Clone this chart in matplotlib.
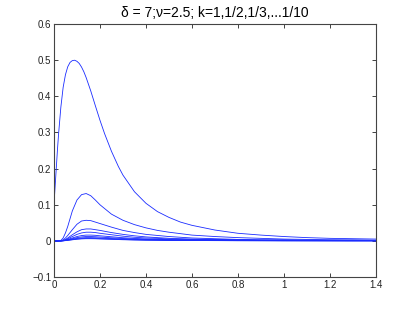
import matplotlib
matplotlib.use("Agg")
import matplotlib.pyplot as plt
from matplotlib.ticker import FuncFormatter

# curva k=1 tem pico estreito, usa grade propria mais densa
x1 = [0, 0.005, 0.01, 0.015, 0.02, 0.03, 0.04, 0.05, 0.06, 0.07, 0.08,
      0.09, 0.10, 0.11, 0.12, 0.13, 0.14, 0.16, 0.18, 0.20, 0.22, 0.25,
      0.28, 0.30, 0.35, 0.40, 0.45, 0.50, 0.55, 0.60, 0.70, 0.80, 0.90,
      1.0, 1.1, 1.2, 1.3, 1.4]
k1 = [0.10, 0.15, 0.20, 0.25, 0.295, 0.37, 0.425, 0.46, 0.482, 0.494,
      0.499, 0.500, 0.497, 0.491, 0.481, 0.468, 0.452, 0.415, 0.374, 0.334,
      0.297, 0.248, 0.206, 0.182, 0.136, 0.104, 0.081, 0.065, 0.052, 0.043,
      0.030, 0.021, 0.016, 0.012, 0.009, 0.007, 0.006, 0.005]

# grade comum para k = 1/2 ... 1/10
x = [0, 0.01, 0.02, 0.03, 0.04, 0.05, 0.06, 0.08, 0.10, 0.12, 0.14, 0.16,
     0.18, 0.20, 0.25, 0.30, 0.35, 0.40, 0.45, 0.50, 0.60, 0.70, 0.80,
     0.90, 1.0, 1.1, 1.2, 1.3, 1.4]
k2 = [0, 0, 0, 0.001, 0.008, 0.022, 0.040, 0.083, 0.113, 0.128, 0.131,
      0.125, 0.113, 0.100, 0.074, 0.057, 0.045, 0.036, 0.029, 0.024,
      0.016, 0.012, 0.009, 0.007, 0.005, 0.004, 0.003, 0.003, 0.002]
k3 = [0, 0, 0, 0, 0.003, 0.008, 0.015, 0.031, 0.046, 0.055, 0.057, 0.056,
      0.052, 0.048, 0.038, 0.029, 0.023, 0.018, 0.015, 0.012, 0.008,
      0.006, 0.004, 0.003, 0.003, 0.002, 0.002, 0.001, 0.001]
k4 = [0, 0, 0, 0, 0.001, 0.004, 0.008, 0.017, 0.025, 0.031, 0.033, 0.033,
      0.031, 0.029, 0.023, 0.018, 0.014, 0.011, 0.009, 0.007, 0.005,
      0.004, 0.003, 0.002, 0.002, 0.001, 0.001, 0.001, 0.001]
k5 = [0, 0, 0, 0, 0.001, 0.003, 0.006, 0.012, 0.018, 0.022, 0.024, 0.024,
      0.023, 0.021, 0.017, 0.013, 0.010, 0.008, 0.007, 0.005, 0.004,
      0.003, 0.002, 0.002, 0.001, 0.001, 0.001, 0.001, 0.001]
k6 = [0, 0, 0, 0, 0.0007, 0.002, 0.004, 0.008, 0.012, 0.0147, 0.016,
      0.016, 0.0154, 0.0141, 0.0114, 0.0087, 0.0067, 0.0053, 0.0045,
      0.0035, 0.0027, 0.002, 0.0015, 0.0012, 0.001, 0.0008, 0.0007,
      0.0006, 0.0005]
k7 = [0, 0, 0, 0, 0.0005, 0.0015, 0.003, 0.006, 0.009, 0.011, 0.012,
      0.012, 0.0115, 0.0106, 0.0085, 0.0065, 0.005, 0.004, 0.0034, 0.0026,
      0.002, 0.0015, 0.0011, 0.0009, 0.0007, 0.0006, 0.0005, 0.0004,
      0.0004]
k8 = [0, 0, 0, 0, 0.0004, 0.0011, 0.0023, 0.0045, 0.0068, 0.0083, 0.009,
      0.009, 0.0086, 0.0079, 0.0064, 0.0049, 0.0038, 0.003, 0.0025, 0.002,
      0.0015, 0.0011, 0.0008, 0.0007, 0.0005, 0.0004, 0.0004, 0.0003,
      0.0003]
k9 = [0, 0, 0, 0, 0.0003, 0.0009, 0.0018, 0.0035, 0.0053, 0.0064, 0.007,
      0.007, 0.0067, 0.0062, 0.005, 0.0038, 0.0029, 0.0023, 0.002, 0.0015,
      0.0012, 0.0009, 0.0006, 0.0005, 0.0004, 0.0003, 0.0003, 0.0002,
      0.0002]
k10 = [0, 0, 0, 0, 0.0002, 0.0007, 0.0015, 0.003, 0.0045, 0.0055, 0.006,
       0.006, 0.0058, 0.0053, 0.0043, 0.0032, 0.0025, 0.002, 0.0017,
       0.0013, 0.001, 0.0007, 0.0005, 0.0004, 0.0003, 0.0003, 0.0002,
       0.0002, 0.0002]
curvas = [k2, k3, k4, k5, k6, k7, k8, k9, k10]

titulo = "\u03b4 = 7;\u03bd=2.5; k=1,1/2,1/3,...1/10"
xticks = [0, 0.2, 0.4, 0.6, 0.8, 1.0, 1.2, 1.4]
yticks = [-0.1, 0, 0.1, 0.2, 0.3, 0.4, 0.5, 0.6]

plt.rcParams["font.family"] = ["Liberation Sans", "DejaVu Sans"]

fig = plt.figure(figsize=(4.15, 3.13), dpi=100)
ax = fig.add_axes([0.130, 0.115, 0.776, 0.808])

ax.plot(x1, k1, color="#1a2cff", linewidth=0.6)
for y in curvas:
    ax.plot(x, y, color="#1a2cff", linewidth=0.6)

ax.set_xlim(0, 1.4)
ax.set_ylim(-0.1, 0.6)
ax.set_xticks(xticks)
ax.set_yticks(yticks)
fmt = FuncFormatter(lambda v, pos: f"{v:g}".replace("-", "\u2212"))
ax.xaxis.set_major_formatter(fmt)
ax.yaxis.set_major_formatter(fmt)
ax.tick_params(direction="in", length=3, width=0.6, labelsize=7,
               top=True, right=True, colors="#222222", pad=2)
for s in ax.spines.values():
    s.set_color("#444444")
    s.set_linewidth(0.8)

ax.set_title(titulo, fontsize=10, pad=5)

fig.savefig("out.png", dpi=100)
